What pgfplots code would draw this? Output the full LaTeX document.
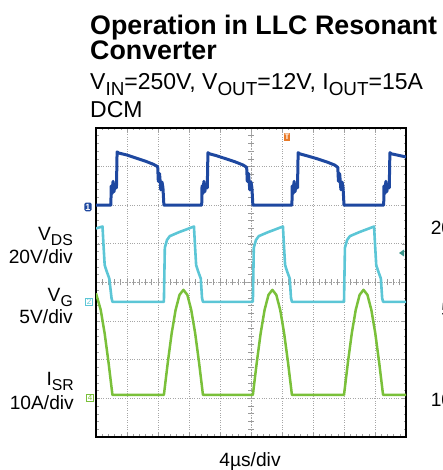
\documentclass[border=0pt]{standalone}
\usepackage{fontspec}
\setmainfont{Liberation Sans}
\usepackage{graphicx}
\usepackage{pgfplots}
\pgfplotsset{compat=1.18}

\definecolor{vds}{RGB}{30,72,160}
\definecolor{vg}{RGB}{92,198,214}
\definecolor{isr}{RGB}{122,192,58}
\definecolor{trig}{RGB}{232,122,40}
\definecolor{lvl}{RGB}{60,150,140}

% scope-style subscript
\newcommand{\sub}[1]{\raisebox{-0.22em}{\scalebox{0.82}{#1}}}
\newcommand{\lab}{\fontsize{19.2}{19.2}\selectfont}

\begin{document}
\begin{tikzpicture}[x=1pt,y=1pt]
  \path[use as bounding box] (0,0) rectangle (442,470);
  \clip (0,0) rectangle (442,470);

  % titles
  \node[anchor=base west, inner sep=0pt, font=\fontsize{26.8}{26.8}\selectfont\bfseries] at (90,435) {Operation in LLC Resonant};
  \node[anchor=base west, inner sep=0pt, font=\fontsize{26.8}{26.8}\selectfont\bfseries] at (90,410) {Converter};
  \node[anchor=base west, inner sep=0pt, font=\fontsize{23}{23}\selectfont] at (90,380) {V\sub{IN}=250V, V\sub{OUT}=12V, I\sub{OUT}=15A};
  \node[anchor=base west, inner sep=0pt, font=\fontsize{23}{23}\selectfont] at (90,352) {DCM};

  % centre lines of the screen with their small marks
  \draw[gray!70, dotted, line width=1pt] (251,33) -- (251,342);
  \draw[gray!70, dotted, line width=1pt] (96,187.5) -- (406,187.5);
  \foreach \k in {1,...,39} \draw[gray!80, line width=0.7pt] (248,33+7.725*\k) -- (254,33+7.725*\k);
  \foreach \k in {1,...,49} \draw[gray!80, line width=0.7pt] (96+6.2*\k,184.5) -- (96+6.2*\k,190.5);

  \begin{axis}[
      at={(96pt,33pt)}, anchor=south west,
      width=310pt, height=309pt, scale only axis,
      xmin=0, xmax=10, ymin=0, ymax=8,
      xtick={0,...,10}, ytick={0,...,8}, minor tick num=4,
      xticklabels={}, yticklabels={},
      grid=major,
      major grid style={gray!70, dotted, line width=1pt},
      tick align=inside,
      major tick length=4pt, minor tick length=2.5pt,
      every tick/.style={gray!75, line width=0.6pt},
      axis line style={line width=2.4pt, black},
    ]
    % V_DS
    \addplot[vds, line width=3pt, line join=round] coordinates {
      (0,6.0) (0.48,6.0) (0.49,6.5) (0.52,6.3) (0.55,6.62) (0.58,6.35) (0.62,6.55) (0.66,6.45)
      (0.68,7.38) (0.74,7.35) (1.0,7.3) (1.3,7.22) (1.6,7.14) (1.85,7.06) (1.99,7.0)
      (2.01,6.62) (2.05,6.82) (2.09,6.4) (2.13,6.6) (2.16,6.45) (2.19,6.0)
      (3.41,6.0) (3.42,6.5) (3.45,6.3) (3.48,6.62) (3.51,6.35) (3.55,6.55) (3.59,6.45)
      (3.61,7.36) (3.67,7.33) (3.9,7.28) (4.2,7.2) (4.5,7.12) (4.75,7.04) (4.86,6.98)
      (4.88,6.62) (4.92,6.82) (4.96,6.4) (5.0,6.6) (5.03,6.45) (5.06,6.0)
      (6.32,6.0) (6.33,6.5) (6.36,6.3) (6.39,6.62) (6.42,6.35) (6.46,6.55) (6.50,6.45)
      (6.52,7.36) (6.58,7.33) (6.85,7.27) (7.15,7.2) (7.45,7.12) (7.7,7.04) (7.80,6.98)
      (7.82,6.62) (7.86,6.82) (7.90,6.4) (7.94,6.6) (7.97,6.45) (8.0,6.0)
      (9.28,6.0) (9.29,6.5) (9.32,6.3) (9.35,6.62) (9.38,6.35) (9.42,6.55) (9.46,6.45)
      (9.48,7.36) (9.54,7.33) (10,7.25)
    };
    % V_G
    \addplot[vg, line width=2.6pt, line join=round] coordinates {
      (0,5.4) (0.21,5.45) (0.24,5.0) (0.28,4.45) (0.34,4.3) (0.43,4.1) (0.50,3.6) (0.53,3.5)
      (2.19,3.5) (2.22,4.9) (2.29,5.1) (2.38,5.2) (2.67,5.3) (3.0,5.4) (3.16,5.45)
      (3.19,5.0) (3.23,4.45) (3.29,4.3) (3.38,4.1) (3.42,3.6) (3.45,3.5)
      (5.06,3.5) (5.09,4.9) (5.16,5.1) (5.25,5.2) (5.54,5.3) (5.87,5.4) (6.03,5.45)
      (6.06,5.0) (6.10,4.45) (6.16,4.3) (6.25,4.1) (6.29,3.6) (6.32,3.5)
      (8.0,3.5) (8.03,4.9) (8.10,5.1) (8.19,5.2) (8.48,5.3) (8.81,5.4) (8.97,5.45)
      (9.0,5.0) (9.04,4.45) (9.10,4.3) (9.19,4.1) (9.23,3.6) (9.26,3.5) (10,3.5)
    };
    % I_SR
    \addplot[isr, line width=2.5pt, line join=round] coordinates {
      (0,3.72) (0.152,3.29) (0.278,2.69) (0.404,1.93) (0.53,1.09)
      (2.19,1.09) (2.316,1.93) (2.442,2.69) (2.568,3.29) (2.694,3.68) (2.82,3.81)
      (2.946,3.68) (3.072,3.29) (3.198,2.69) (3.324,1.93) (3.45,1.09)
      (5.06,1.09) (5.186,1.93) (5.312,2.69) (5.438,3.29) (5.564,3.68) (5.69,3.81)
      (5.816,3.68) (5.942,3.29) (6.068,2.69) (6.194,1.93) (6.32,1.09)
      (8.0,1.09) (8.126,1.93) (8.252,2.69) (8.378,3.29) (8.504,3.68) (8.63,3.81)
      (8.756,3.68) (8.882,3.29) (9.008,2.69) (9.134,1.93) (9.26,1.09) (10,1.09)
    };
  \end{axis}

  % channel, trigger and level markers
  \node[fill=vds, text=white, rounded corners=1.5pt, inner sep=1.2pt, font=\fontsize{9}{9}\selectfont\bfseries] at (88,263) {1};
  \node[draw=vg, text=vg, inner sep=1pt, line width=0.6pt, font=\fontsize{8}{8}\selectfont] at (89,168) {2};
  \node[draw=isr, text=isr, inner sep=1pt, line width=0.6pt, font=\fontsize{8}{8}\selectfont] at (90,72) {4};
  \node[fill=trig, text=white, inner sep=1pt, font=\fontsize{8}{8}\selectfont\bfseries] at (287,333) {T};
  \fill[lvl] (399,217) -- (404,220.5) -- (404,213.5) -- cycle;

  % channel scales, left
  \node[anchor=base east, inner sep=0pt, font=\lab] at (73,229) {V\sub{DS}};
  \node[anchor=base east, inner sep=0pt, font=\lab] at (73,206) {20V/div};
  \node[anchor=base east, inner sep=0pt, font=\lab] at (73,168) {V\sub{G}};
  \node[anchor=base east, inner sep=0pt, font=\lab] at (73,146) {5V/div};
  \node[anchor=base east, inner sep=0pt, font=\lab] at (74,84) {I\sub{SR}};
  \node[anchor=base east, inner sep=0pt, font=\lab] at (74,60) {10A/div};

  % the next panel's scales, cut by the page edge as in the reference
  \node[anchor=base east, inner sep=0pt, font=\lab] at (495,235) {20V/div};
  \node[anchor=base east, inner sep=0pt, font=\lab] at (495,153) {5V/div};
  \node[anchor=base east, inner sep=0pt, font=\lab] at (495,63) {10A/div};

  \node[anchor=base, inner sep=0pt, font=\lab] at (250,3) {4µs/div};
\end{tikzpicture}
\end{document}
